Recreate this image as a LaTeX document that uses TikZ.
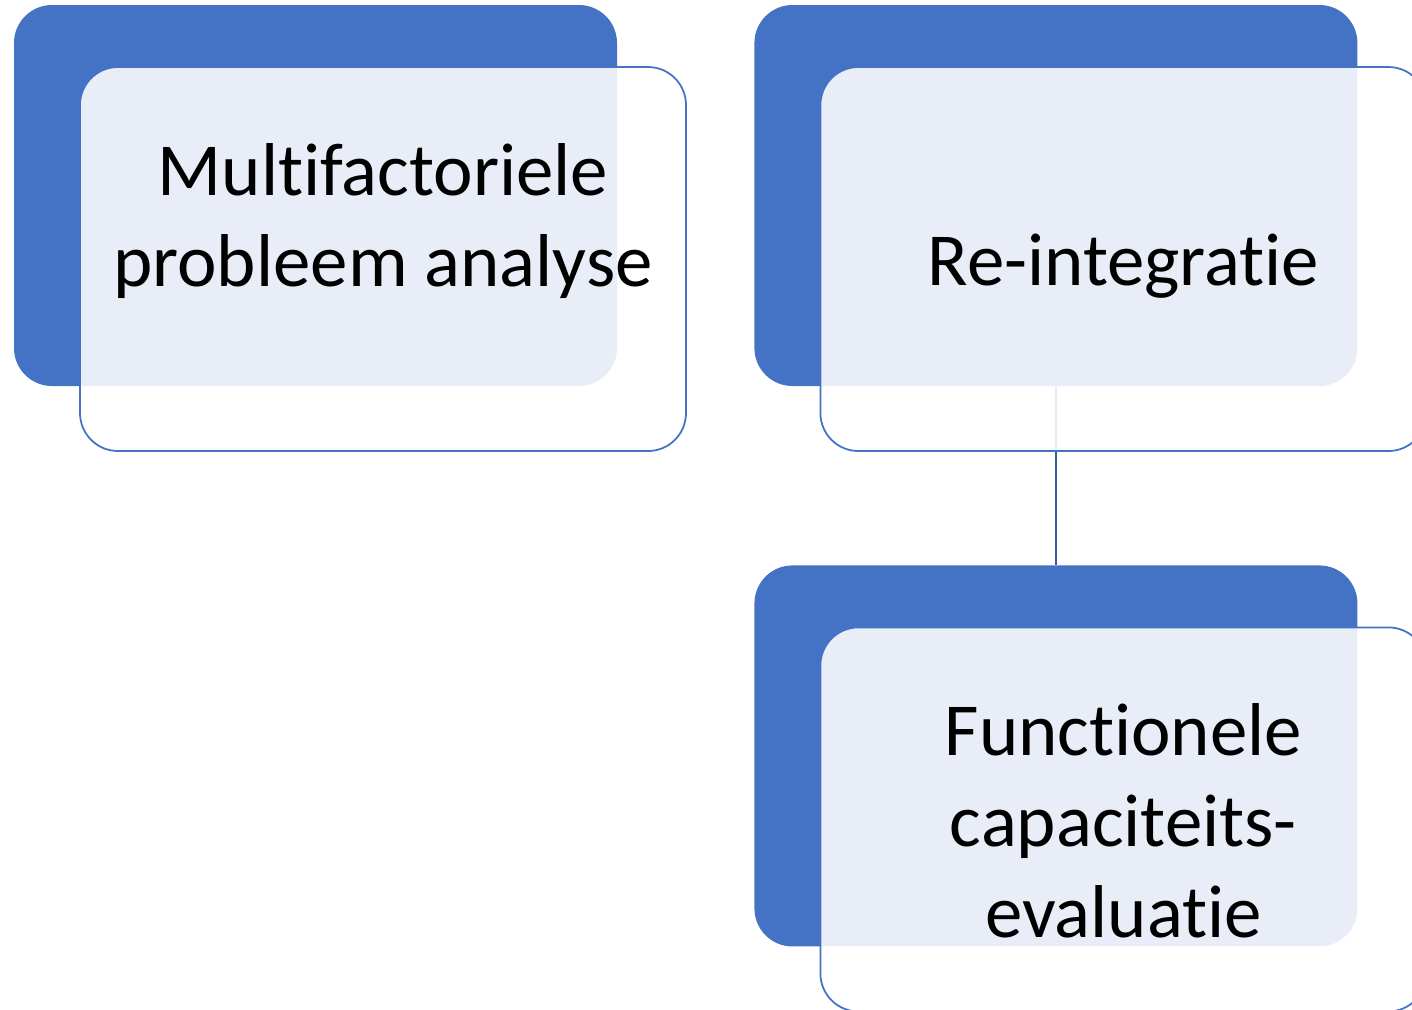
\documentclass[tikz,border=0pt]{standalone}
\usepackage{fontspec}
\setmainfont[Ligatures=NoCommon]{Carlito}
\usepackage{tikz}
\usetikzlibrary{positioning}
\definecolor{accent}{HTML}{4472C4}
\definecolor{linkblue}{HTML}{3A5BA0}
\tikzstyle{backbox} = [rectangle, rounded corners=0.38cm, fill=accent, inner sep=0pt,
    minimum width=6.03cm, minimum height=3.81cm]
\tikzstyle{frontbox} = [rectangle, rounded corners=0.38cm, draw=accent, line width=0.5pt,
    fill=white, fill opacity=0.88, inner sep=0pt, minimum width=6.06cm, minimum height=3.84cm]
\tikzstyle{label} = [align=center, text=black, font=\fontsize{21.3}{25.9}\selectfont]
\tikzstyle{connector} = [draw=linkblue, line width=0.45pt]

\begin{document}
\begin{tikzpicture}
        \useasboundingbox (0,0) rectangle (14.12,-10.09);
        \clip (0,0) rectangle (14.12,-10.09);
        \node[backbox] (b1) at (3.155,-1.955) {};
        \node[backbox, right=1.36cm of b1] (b2) {};
        \node[backbox, below=1.78cm of b2] (b3) {};
        \draw[connector] (b2.south) -- (b3.north);
        \node[frontbox, xshift=0.675cm, yshift=-0.635cm] (f1) at (b1) {};
        \node[frontbox, xshift=0.675cm, yshift=-0.635cm] (f2) at (b2) {};
        \node[frontbox, xshift=0.675cm, yshift=-0.635cm] (f3) at (b3) {};
        \node[label, yshift=0.38cm] (t1) at (f1) {Multifactoriele\\probleem analyse};
        \node[label, yshift=-0.07cm] (t2) at (f2) {Re-integratie};
        \node[label, yshift=-0.01cm] (t3) at (f3) {Functionele\\capaciteits-\\evaluatie};
    \end{tikzpicture}
\end{document}
